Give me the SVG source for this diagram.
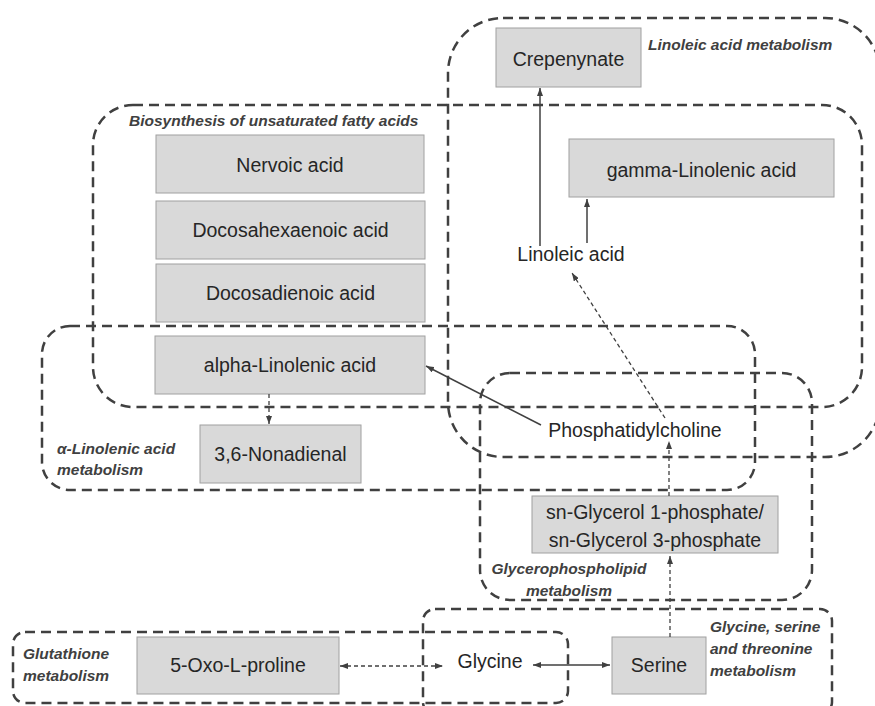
<svg xmlns="http://www.w3.org/2000/svg" width="875" height="706" viewBox="0 0 875 706">
<defs>
<style>
.grp{fill:none;stroke:#404040;stroke-width:2.5;stroke-dasharray:10 6}
.node rect{fill:#d9d9d9;stroke:#a0a0a0;stroke-width:1}
.t{font-family:"Liberation Sans",Arial,sans-serif;font-size:19.5px;fill:#262626;text-anchor:middle}
.lbl{font-family:"Liberation Sans",Arial,sans-serif;font-size:15.5px;font-weight:bold;font-style:italic;fill:#404040}
.c{fill:none;stroke:#404040;stroke-width:1.5}
.d{fill:none;stroke:#404040;stroke-width:1.3;stroke-dasharray:4 3}
</style>
<marker id="arr" viewBox="0 0 8 6" refX="8" refY="3" markerWidth="8" markerHeight="6" markerUnits="userSpaceOnUse" orient="auto-start-reverse">
<path d="M0,0 L8,3 L0,6 z" fill="#404040"/>
</marker>
</defs>
<rect width="875" height="706" fill="#ffffff"/>

<g id="groups">
<g id="g-linoleic"><rect class="grp" x="448" y="18" width="432" height="439" rx="55"/><text class="lbl" x="648" y="50">Linoleic acid metabolism</text></g>
<g id="g-biosynthesis"><rect class="grp" x="93" y="105" width="769" height="302" rx="40"/><text class="lbl" x="129" y="126">Biosynthesis of unsaturated fatty acids</text></g>
<g id="g-alpha"><rect class="grp" x="42" y="326" width="713" height="164" rx="28"/><text class="lbl" x="57" y="454">α-Linolenic acid</text><text class="lbl" x="57" y="475">metabolism</text></g>
<g id="g-glycerophospholipid"><rect class="grp" x="480" y="373" width="332" height="227" rx="30"/><text class="lbl" x="569" y="574" text-anchor="middle">Glycerophospholipid</text><text class="lbl" x="569" y="596" text-anchor="middle">metabolism</text></g>
<g id="g-glutathione"><rect class="grp" x="13" y="632" width="555" height="71" rx="12"/><text class="lbl" x="23" y="659">Glutathione</text><text class="lbl" x="23" y="681">metabolism</text></g>
<g id="g-glycine"><rect class="grp" x="423" y="609" width="409" height="105" rx="12"/><text class="lbl" x="710" y="632">Glycine, serine</text><text class="lbl" x="710" y="654">and threonine</text><text class="lbl" x="710" y="676">metabolism</text></g>
</g>

<g id="n-crepenynate" class="node"><rect x="496" y="28" width="145" height="59"/><text class="t" x="568.5" y="66">Crepenynate</text></g>
<g id="n-gamma" class="node"><rect x="569" y="139" width="265" height="58"/><text class="t" x="701.5" y="177">gamma-Linolenic acid</text></g>
<g id="n-nervoic" class="node"><rect x="156" y="135" width="268" height="58"/><text class="t" x="290" y="172">Nervoic acid</text></g>
<g id="n-dha" class="node"><rect x="156" y="201" width="269" height="58"/><text class="t" x="290.5" y="237">Docosahexaenoic acid</text></g>
<g id="n-docosadienoic" class="node"><rect x="156" y="264" width="269" height="58"/><text class="t" x="290.5" y="300">Docosadienoic acid</text></g>
<g id="n-alpha" class="node"><rect x="155" y="336" width="270" height="58"/><text class="t" x="290" y="372">alpha-Linolenic acid</text></g>
<g id="n-nonadienal" class="node"><rect x="200" y="425" width="161" height="58"/><text class="t" x="280.5" y="461">3,6-Nonadienal</text></g>
<g id="n-glycerol" class="node"><rect x="532" y="496" width="246" height="57"/><text class="t" x="655" y="519">sn-Glycerol 1-phosphate/</text><text class="t" x="655" y="547">sn-Glycerol 3-phosphate</text></g>
<g id="n-oxoproline" class="node"><rect x="137" y="637" width="202" height="57"/><text class="t" x="238" y="672">5-Oxo-L-proline</text></g>
<g id="n-serine" class="node"><rect x="612" y="637" width="94" height="57"/><text class="t" x="659" y="672">Serine</text></g>
<g id="n-linoleic"><text class="t" x="571" y="261">Linoleic acid</text></g>
<g id="n-pc"><text class="t" x="635" y="437">Phosphatidylcholine</text></g>
<g id="n-glycine"><text class="t" x="490" y="668">Glycine</text></g>

<g id="connectors">
<line class="c" x1="540" y1="246" x2="540" y2="88" marker-end="url(#arr)"/>
<line class="c" x1="587" y1="243" x2="587" y2="199" marker-end="url(#arr)"/>
<line class="d" x1="665" y1="418" x2="572" y2="273" marker-end="url(#arr)"/>
<line class="c" x1="541" y1="425" x2="426" y2="366" marker-end="url(#arr)"/>
<line class="d" x1="269" y1="394" x2="269" y2="424" marker-end="url(#arr)"/>
<line class="d" x1="669" y1="496" x2="669" y2="441" marker-end="url(#arr)"/>
<line class="d" x1="670" y1="637" x2="670" y2="556" marker-end="url(#arr)"/>
<line class="d" x1="340" y1="666" x2="443" y2="666" marker-start="url(#arr)" marker-end="url(#arr)"/>
<line class="c" x1="533" y1="665" x2="610" y2="665" marker-start="url(#arr)" marker-end="url(#arr)"/>
</g>
</svg>
